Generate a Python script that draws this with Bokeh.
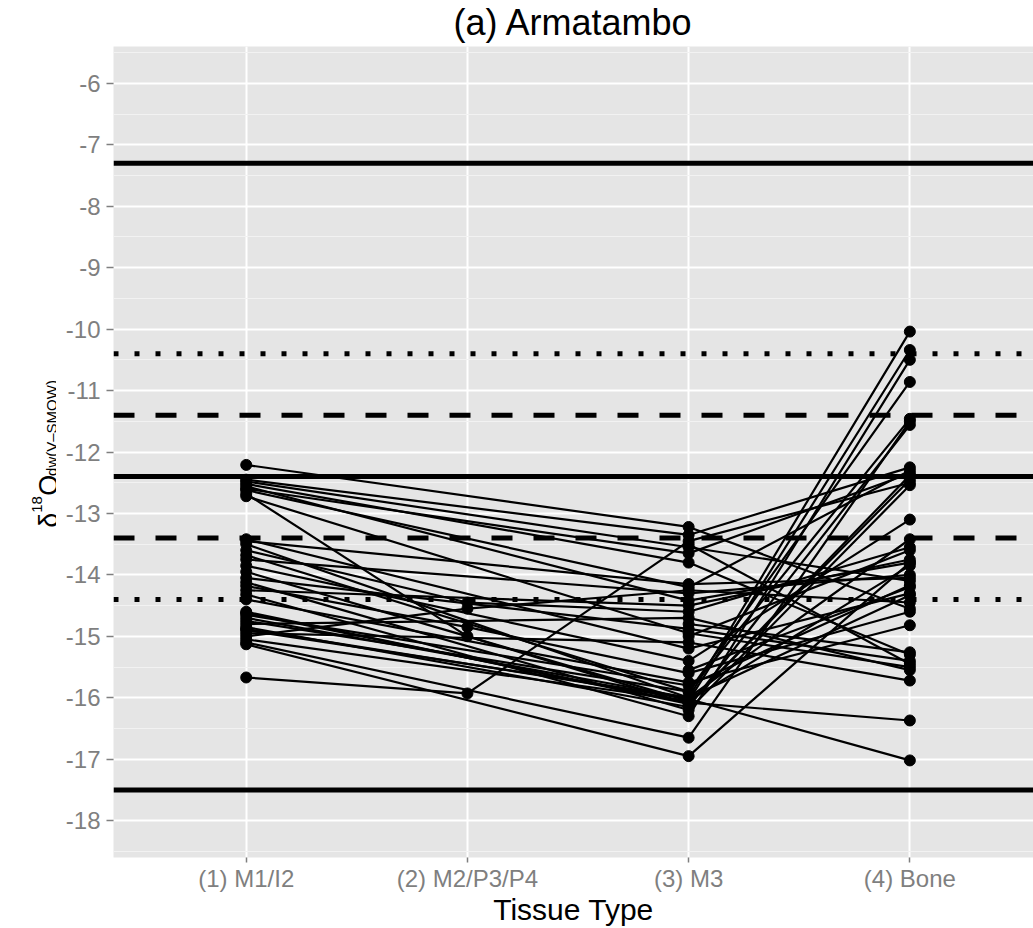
from bokeh.plotting import figure
from bokeh.models import Range1d, FixedTicker
from bokeh.layouts import row
from bokeh.embed import file_html
from bokeh.resources import INLINE
from bokeh.core.properties import value
import math

# ---- data ----
tissue_labels = ["(1) M1/I2", "(2) M2/P3/P4", "(3) M3", "(4) Bone"]
y_ticks = [-18, -17, -16, -15, -14, -13, -12, -11, -10, -9, -8, -7, -6]

ref_solid = [-7.3, -12.4, -17.5]
ref_dashed = [-11.4, -13.4]
ref_dotted = [-10.4, -14.4]

N = None
m1 = [-12.21, -12.45, -12.48, -12.52, -12.56, -12.62, -12.68, -12.72, -13.42, -13.50,
      -13.60, -13.68, -13.75, -13.85, -13.95, -14.05, -14.12, -14.18, -14.25, -14.32,
      -14.40, -14.60, -14.65, -14.70, -14.75, -14.80, -14.85, -14.90, -14.95, -15.00,
      -15.05, -15.10, -15.13, -15.67, -14.62, -14.88, N, N, N, N, -13.45, -12.60]
m2 = [N, N, N, N, N, N, -15.00, N, N, N,
      -14.45, N, N, N, N, N, N, -14.85, N, N,
      N, N, N, N, N, N, N, N, N, -14.55,
      N, N, N, -15.93, N, N, N, N, N, N, N, N]
m3 = [-13.22, -13.35, -13.55, -13.80, -14.42, -14.20, -16.10, -14.95, -15.20, -16.00,
      -14.60, -15.90, -14.30, -15.40, -16.05, -14.88, -16.20, -15.60, -14.50, -16.30,
      -15.75, -16.10, -15.80, -16.00, -15.90, -14.70, -16.15, -16.00, -15.10, -14.25,
      -16.05, -16.65, -16.95, -13.45, -16.08, -16.02, -14.80, -13.50, -15.00, -15.55,
      -14.15, -13.65]
bone = [-14.55, -12.25, -14.10, -15.30, -13.80, -12.30, -12.45, -15.50, -14.30, -10.04,
        -13.55, -11.46, -14.00, -13.10, -10.34, -15.40, -12.54, -14.60, -13.75, -10.50,
        -14.82, -12.38, -14.17, -13.42, -10.86, -15.55, -11.56, -14.33, -15.72, -14.45,
        -13.85, -11.50, -13.80, -12.50, -16.37, -17.02, -15.26, -15.45, -13.60, -14.20,
        -14.05, -12.35]

# ---- layout constants ----
X0, X1 = 0.4, 4.559
Y0, Y1 = -18.6, -5.4
W, H = 1033, 928
LW = 56              # width of the y-label strip
BL, BT, BB = 57, 45, 69
FONT = "Liberation Sans"
FH = H - BT - BB

def yd(py):
    return Y1 - (py - BT) * (Y1 - Y0) / FH

p = figure(width=W - LW, height=H, x_range=Range1d(X0, X1), y_range=Range1d(Y0, Y1),
           output_backend="svg", toolbar_location=None,
           min_border_left=BL, min_border_right=0, min_border_top=BT, min_border_bottom=BB)
p.background_fill_color = "#E5E5E5"
p.border_fill_color = "white"
p.outline_line_color = None

p.title.text = "(a) Armatambo"
p.title.align = "center"
p.title.vertical_align = "top"
p.title.text_font = FONT
p.title.text_font_size = "36px"
p.title.text_font_style = "normal"
p.title.text_color = "black"
p.title.standoff = 3
p.title.offset = -7

p.xaxis.ticker = FixedTicker(ticks=[1, 2, 3, 4])
p.xaxis.major_label_overrides = {i + 1: lab for i, lab in enumerate(tissue_labels)}
minor = [t + 0.5 for t in y_ticks] + [-18.5]
p.yaxis.ticker = FixedTicker(ticks=y_ticks, minor_ticks=minor)
p.yaxis.major_label_overrides = {t: str(t) for t in y_ticks}

for ax in (p.xaxis, p.yaxis):
    ax.axis_line_color = None
    ax.major_tick_line_color = "#7F7F7F"
    ax.major_tick_line_width = 1.5
    ax.major_tick_in = 0
    ax.minor_tick_line_color = None
    ax.major_label_text_color = "#7F7F7F"
    ax.major_label_text_font = FONT
    ax.major_label_text_font_size = "24px"
p.yaxis.major_tick_out = 7
p.yaxis.major_label_standoff = 6
p.xaxis.major_tick_out = 5
p.xaxis.major_label_standoff = 2

p.xaxis.axis_label = "Tissue Type"
p.xaxis.axis_label_text_font = FONT
p.xaxis.axis_label_text_font_size = "30px"
p.xaxis.axis_label_text_font_style = "normal"
p.xaxis.axis_label_text_color = "black"
p.xaxis.axis_label_standoff = -2

p.xgrid.grid_line_color = "white"
p.xgrid.grid_line_width = 2
p.ygrid.grid_line_color = "white"
p.ygrid.grid_line_width = 2
p.ygrid.minor_grid_line_color = "#F2F2F2"
p.ygrid.minor_grid_line_width = 1

# reference lines
n = len(ref_solid)
p.segment(x0=[X0] * n, x1=[4.6] * n, y0=ref_solid, y1=ref_solid, line_color="black", line_width=5)
n = len(ref_dashed)
p.segment(x0=[X0] * n, x1=[4.6] * n, y0=ref_dashed, y1=ref_dashed, line_color="black",
          line_width=5, line_dash="21 21")
n = len(ref_dotted)
p.segment(x0=[X0] * n, x1=[4.6] * n, y0=ref_dotted, y1=ref_dotted, line_color="black",
          line_width=5, line_dash="5 16")

# individuals
xs, ys, px, py = [], [], [], []
for i in range(len(m1)):
    xx, yy = [], []
    for k, arr in enumerate((m1, m2, m3, bone)):
        v = arr[i]
        if v is not None:
            xx.append(k + 1)
            yy.append(v)
    xs.append(xx)
    ys.append(yy)
    px.extend(xx)
    py.extend(yy)

p.multi_line(xs, ys, line_color="black", line_width=2.2)
p.scatter(px, py, size=11, color="black")

# ---- y-axis label strip (delta 18 O dw(V-SMOW)), shares the main y scale ----
q = figure(width=LW, height=H, x_range=Range1d(0, LW), y_range=p.y_range,
           output_backend="svg", toolbar_location=None, x_axis_type=None, y_axis_type=None,
           min_border_left=0, min_border_right=0, min_border_top=BT, min_border_bottom=BB)
q.outline_line_color = None
q.xgrid.visible = False
q.ygrid.visible = False
q.background_fill_color = "white"
q.border_fill_color = "white"

def rlab(xp, yp, txt, size):
    q.text(x=[xp], y=[yd(yp)], text=[txt], angle=math.pi / 2,
           text_align="left", text_baseline="alphabetic",
           text_font=value(FONT), text_font_size=size, text_color="black")

rlab(48, 528, "δ", "27px")
rlab(36, 513, "18", "15px")
rlab(48, 496, "O", "27px")
rlab(51, 476, "dw(V\u2013SMOW)", "15px")

layout = row(q, p)
open("out.html", "w").write(file_html(layout, INLINE))
